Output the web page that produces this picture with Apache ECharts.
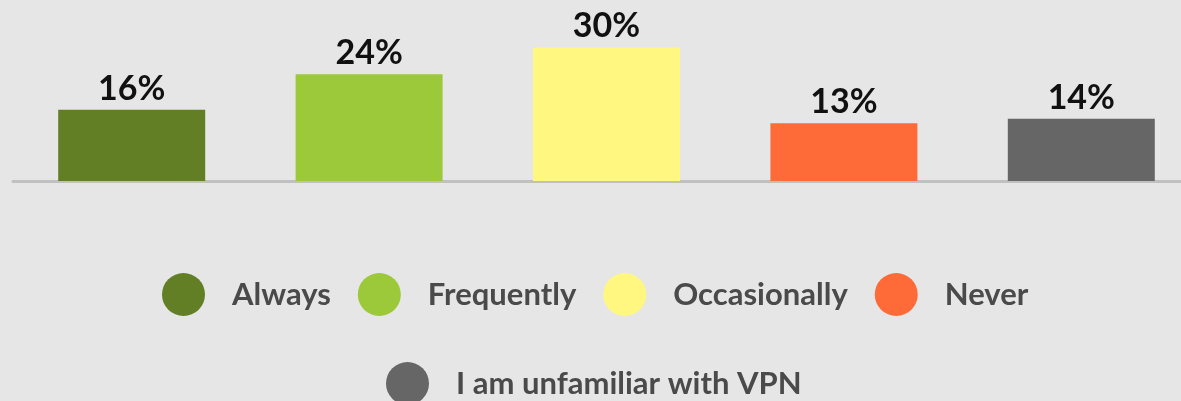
<!DOCTYPE html>
<html lang="en">
<head>
    <meta charset="UTF-8">
    <title>VPN usage</title>
    <style>
        html, body { margin: 0; padding: 0; background: #e6e6e6; }
    </style>
</head>
<body>
<div id="main" style="width: 1181px;height:401px;"></div>
<script type="text/javascript" src="https://cdn.jsdelivr.net/npm/echarts@6/dist/echarts.min.js"></script>
<script type="text/javascript">

    // data
    var categories = ['Always', 'Frequently', 'Occasionally', 'Never', 'I am unfamiliar with VPN'];
    var values = [16, 24, 30, 13, 14];
    var colors = ['#627f26', '#9bc93a', '#fff77f', '#ff6a39', '#666666'];

    var myChart = echarts.init(document.getElementById("main"));

    // one series per answer so the legend can list them
    var series = categories.map(function (name, i) {
        var d = categories.map(function (c, j) { return j === i ? values[i] : '-'; });
        return {
            name: name,
            type: 'bar',
            stack: 'all',
            barWidth: 147,
            itemStyle: { color: colors[i] },
            label: {
                show: true,
                position: 'top',
                distance: 4,
                formatter: '{c}%',
                color: '#111',
                fontFamily: 'Lato',
                fontWeight: 'bold',
                fontSize: 34
            },
            data: d
        };
    });

    var legendText = {
        color: '#4a4a4a',
        fontFamily: 'Lato',
        fontWeight: 'bold',
        fontSize: 31,
        padding: [0, 0, 0, 22]
    };

    myChart.setOption({
        backgroundColor: '#e6e6e6',
        animation: false,
        // the plot runs a little past the right edge of the picture
        grid: { left: 13, right: -19, top: 3, bottom: 220, outerBoundsMode: 'none' },
        legend: [
            {
                data: categories.slice(0, 4),
                left: 162,
                top: 273,
                padding: 0,
                icon: 'circle',
                itemWidth: 43,
                itemHeight: 43,
                itemGap: 27,
                textStyle: legendText
            },
            {
                data: categories.slice(4),
                left: 386,
                top: 362,
                padding: 0,
                icon: 'circle',
                itemWidth: 43,
                itemHeight: 43,
                textStyle: legendText
            }
        ],
        xAxis: {
            type: 'category',
            data: categories,
            axisLine: { lineStyle: { color: '#c0c0c0', width: 3 } },
            axisTick: { show: false },
            axisLabel: { show: false }
        },
        yAxis: {
            type: 'value',
            min: 0,
            max: 40,
            show: false
        },
        series: series
    });
</script>
</body>
</html>
